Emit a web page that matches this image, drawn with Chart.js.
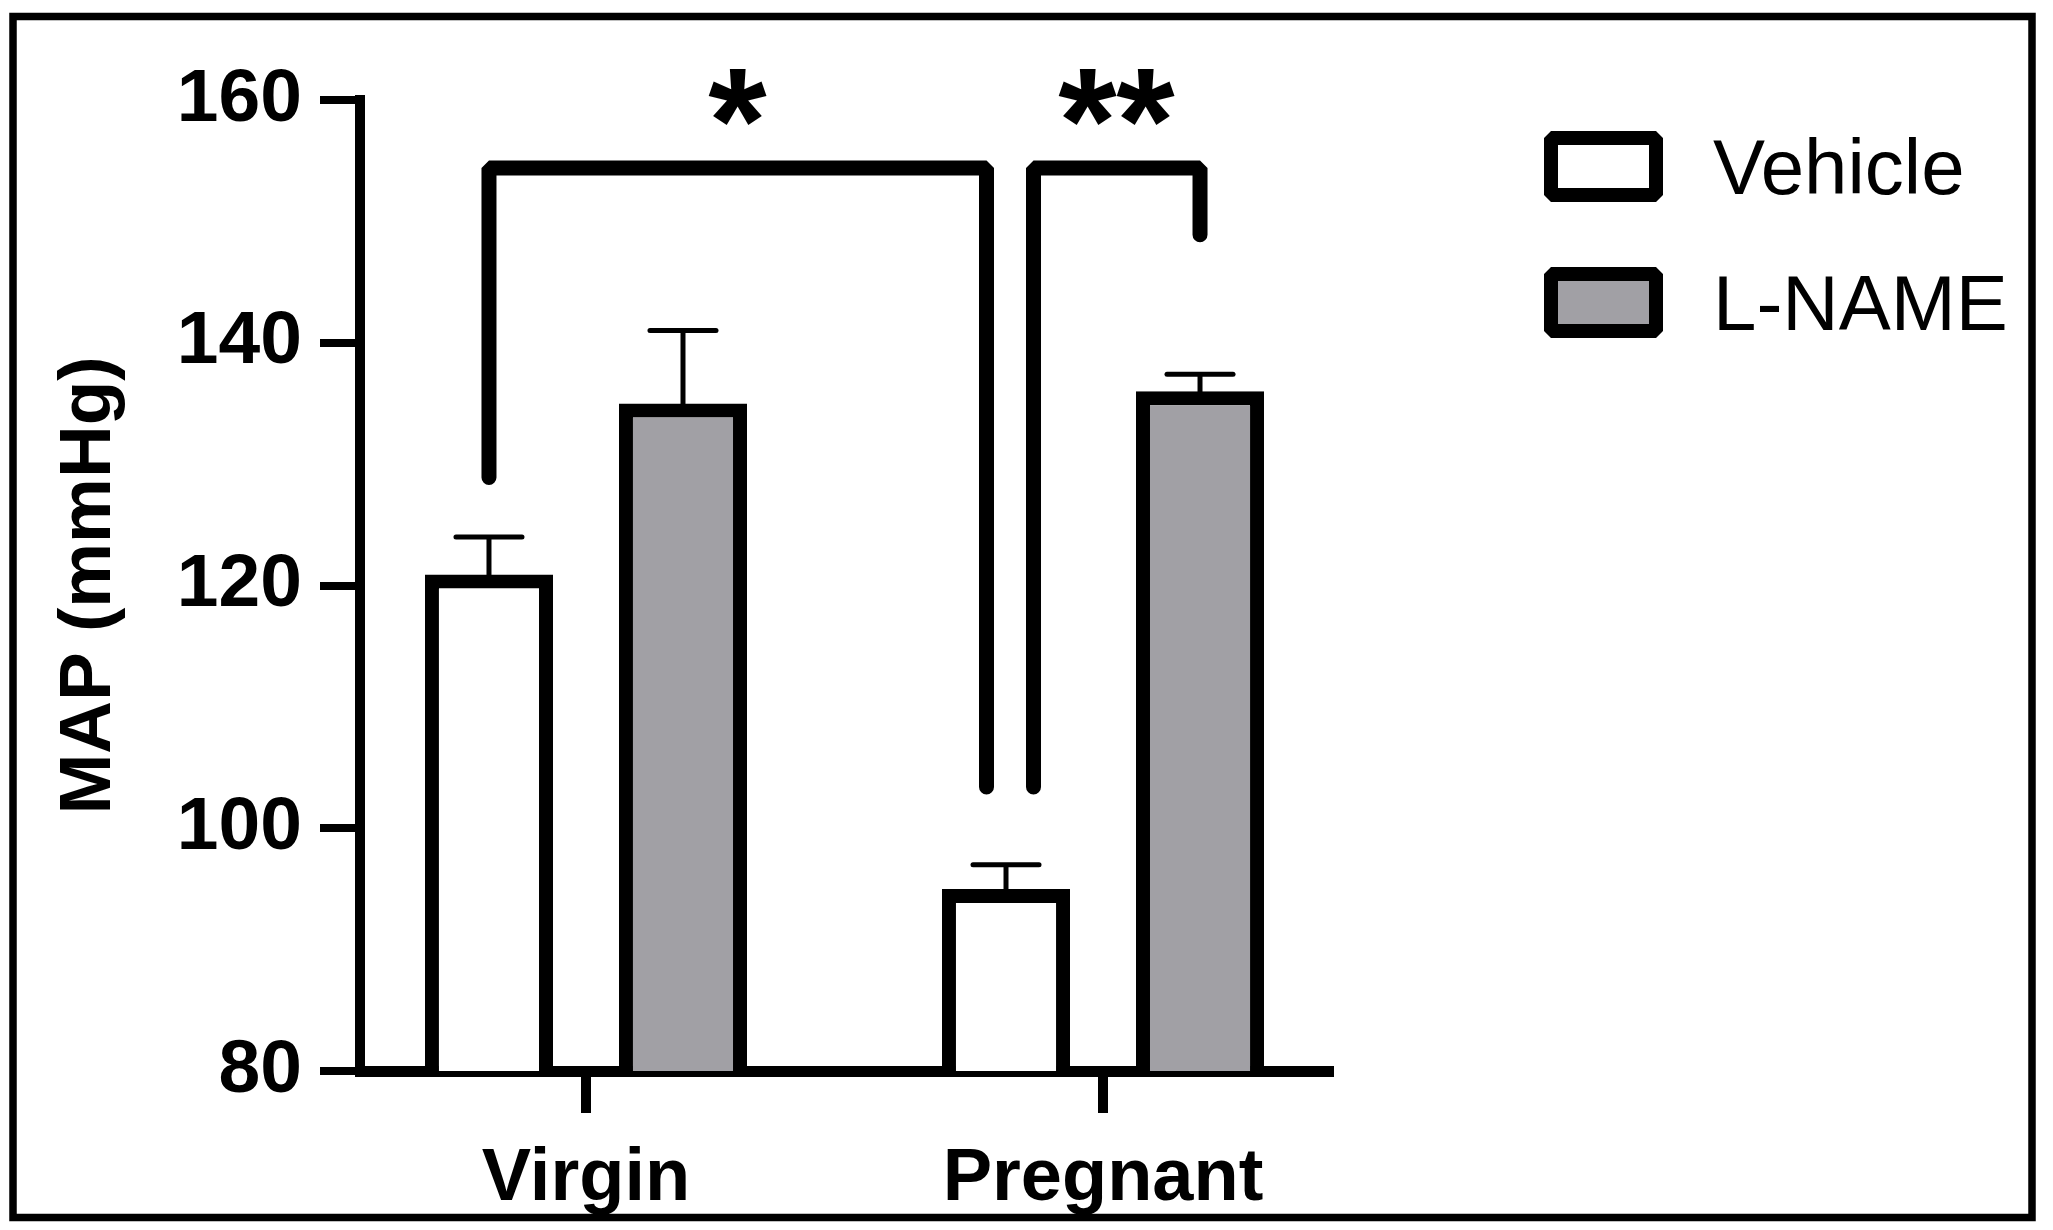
<!DOCTYPE html>
<html>
<head>
<meta charset="utf-8">
<script src="https://cdn.jsdelivr.net/npm/chart.js@4.4.1/dist/chart.umd.min.js"></script>
<style>
html,body{margin:0;padding:0;background:#fff;overflow:hidden}
#wrap{width:2053px;height:1230px;position:relative}
canvas{display:block}
</style>
</head>
<body>
<div id="wrap"><canvas id="c" width="2053" height="1230"></canvas></div>
<script>
// ---- data ----
const categories = ['Virgin', 'Pregnant'];
const seriesNames = ['Vehicle', 'L-NAME'];
const vehicleMean = [120.9, 95.0];
const vehicleSem  = [3.1, 2.0];
const lnameMean   = [135.0, 136.0];
const lnameSem    = [6.0, 1.4];
const yTicks = [80, 100, 120, 140, 160];
const bracketFrom  = [[0, 0], [0, 1]];   // [dataset, category]
const bracketTo    = [[0, 1], [1, 1]];
const bracketTop   = [154.4, 154.4];
const bracketFromEnd = [128.9, 103.4];
const bracketToEnd   = [103.4, 148.9];
const bracketLabels  = ['*', '**'];

// ---- styles ----
const FONT = '"Liberation Sans", Arial, Helvetica, sans-serif';
const fillColors = ['#ffffff', '#a1a0a5'];

const annotPlugin = {
  id: 'annot',
  afterDatasetsDraw(chart, args, o) {
    const ctx = chart.ctx, ys = chart.scales.y;
    const means = [vehicleMean, lnameMean], sems = [vehicleSem, lnameSem];
    ctx.save();
    ctx.strokeStyle = '#000';
    ctx.fillStyle = '#000';
    // error bars (upper only)
    means.forEach((m, d) => {
      const meta = chart.getDatasetMeta(d);
      meta.data.forEach((bar, i) => {
        const yT = ys.getPixelForValue(m[i] + sems[d][i]);
        ctx.lineWidth = o.errWidth;
        ctx.lineCap = 'butt';
        ctx.beginPath(); ctx.moveTo(bar.x, bar.y + 4); ctx.lineTo(bar.x, yT); ctx.stroke();
        ctx.lineCap = 'round';
        ctx.beginPath(); ctx.moveTo(bar.x - o.capHalf, yT); ctx.lineTo(bar.x + o.capHalf, yT); ctx.stroke();
      });
    });
    // significance brackets
    ctx.lineWidth = o.bracketWidth;
    ctx.lineCap = 'round';
    ctx.lineJoin = 'bevel';
    bracketLabels.forEach((lab, k) => {
      const a = chart.getDatasetMeta(bracketFrom[k][0]).data[bracketFrom[k][1]];
      const b = chart.getDatasetMeta(bracketTo[k][0]).data[bracketTo[k][1]];
      const x1 = a.x + o.nudge[k][0], x2 = b.x + o.nudge[k][1];
      const yTop = ys.getPixelForValue(bracketTop[k]);
      ctx.beginPath();
      ctx.moveTo(x1, ys.getPixelForValue(bracketFromEnd[k]));
      ctx.lineTo(x1, yTop);
      ctx.lineTo(x2, yTop);
      ctx.lineTo(x2, ys.getPixelForValue(bracketToEnd[k]));
      ctx.stroke();
      // stars
      ctx.font = 'bold 100px ' + FONT;
      const m0 = ctx.measureText('*');
      const h0 = m0.actualBoundingBoxAscent + m0.actualBoundingBoxDescent;
      const size = 100 * o.starHeight / h0;
      ctx.font = 'bold ' + size + 'px ' + FONT;
      const m1 = ctx.measureText('*');
      const glyphBottom = yTop - o.starGap;
      const baseline = glyphBottom - m1.actualBoundingBoxDescent;
      ctx.textAlign = 'left';
      ctx.textBaseline = 'alphabetic';
      const cx = (x1 + x2) / 2;
      const n = lab.length;
      const gw = m1.actualBoundingBoxRight + m1.actualBoundingBoxLeft;
      for (let s = 0; s < n; s++) {
        const sx = cx + (s - (n - 1) / 2) * o.starSpacing;
        ctx.fillText('*', sx - gw / 2 + m1.actualBoundingBoxLeft, baseline);
      }
    });
    ctx.restore();
  },
  afterDraw(chart, args, o) {
    const ctx = chart.ctx;
    ctx.save();
    // legend
    seriesNames.forEach((name, i) => {
      const y = o.legendTop + i * o.legendStep;
      ctx.fillStyle = fillColors[i];
      ctx.fillRect(o.legendX, y, o.legendW, o.legendH);
      ctx.strokeStyle = '#000';
      ctx.lineWidth = o.legendBorder;
      ctx.lineJoin = 'bevel';
      ctx.strokeRect(o.legendX, y, o.legendW, o.legendH);
      ctx.fillStyle = '#000';
      ctx.font = o.legendFont + 'px ' + FONT;
      ctx.textAlign = 'left';
      ctx.textBaseline = 'alphabetic';
      ctx.fillText(name, o.legendTextX, y + o.legendBaseline);
    });
    // outer frame
    ctx.strokeStyle = '#000';
    ctx.lineWidth = 7.5;
    ctx.lineJoin = 'miter';
    ctx.strokeRect(13, 16.5, 2019, 1201);
    ctx.restore();
  }
};

const tickFont = { family: FONT, weight: 'bold', size: 75 };

new Chart(document.getElementById('c'), {
  type: 'bar',
  data: {
    datasets: [
      {
        label: seriesNames[0],
        data: categories.map((c, i) => ({ x: i, y: vehicleMean[i] })),
        backgroundColor: fillColors[0], borderColor: '#000', borderWidth: 14, borderSkipped: 'start',
        categoryPercentage: 0.7505, barPercentage: 0.66
      },
      {
        label: seriesNames[1],
        data: categories.map((c, i) => ({ x: i, y: lnameMean[i] })),
        backgroundColor: fillColors[1], borderColor: '#000', borderWidth: 14, borderSkipped: 'start',
        categoryPercentage: 0.7505, barPercentage: 0.66
      }
    ]
  },
  options: {
    responsive: false,
    devicePixelRatio: 1,
    animation: false,
    layout: { padding: { top: 100, right: 724, bottom: 0, left: 0 } },
    plugins: {
      legend: { display: false },
      tooltip: { enabled: false },
      annot: {
        errWidth: 5, capHalf: 33,
        bracketWidth: 15,
        nudge: [[0, -19.5], [27.5, 0]],
        starHeight: 57, starGap: 41.5, starSpacing: 58,
        legendX: 1551, legendTop: 138, legendStep: 136, legendW: 105, legendH: 57, legendBorder: 14,
        legendTextX: 1713, legendBaseline: 56, legendFont: 78
      }
    },
    scales: {
      x: {
        type: 'linear',
        offset: false,
        min: -0.4371, max: 1.4371,
        bounds: 'data',
        afterBuildTicks: s => { s.ticks = categories.map((c, i) => ({ value: i })); },
        afterFit: s => { s.height = 159; },
        border: { display: true, color: '#000', width: 11 },
        grid: { display: true, offset: false, drawOnChartArea: false, drawTicks: true, tickLength: 42, tickWidth: 10, lineWidth: 10, color: '#000', tickColor: '#000' },
        ticks: { callback: v => categories[v], color: '#000', font: { family: FONT, weight: 'bold', size: 74 }, padding: 22, maxRotation: 0, autoSkip: false }
      },
      y: {
        type: 'linear',
        min: 80, max: 160,
        afterBuildTicks: s => { s.ticks = yTicks.map(v => ({ value: v })); },
        afterFit: s => { s.width = 360; },
        border: { display: true, color: '#000', width: 10 },
        grid: { display: true, drawOnChartArea: false, drawTicks: true, tickLength: 40, tickWidth: 8, lineWidth: 8, color: '#000', tickColor: '#000' },
        ticks: { color: '#000', font: tickFont, padding: 18, autoSkip: false },
        title: { display: true, text: 'MAP (mmHg)', color: '#000', font: { family: FONT, weight: 'bold', size: 73 }, padding: { top: 46, bottom: 0 } }
      }
    }
  },
  plugins: [annotPlugin]
});
</script>
</body>
</html>
